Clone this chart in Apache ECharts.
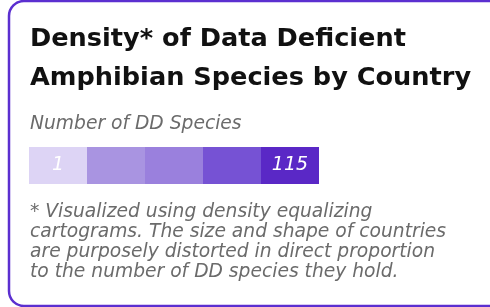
<!DOCTYPE html>
<html>
<head>
<meta charset="utf-8">
<script src="https://cdn.jsdelivr.net/npm/echarts@6/dist/echarts.min.js"></script>
<style>
html,body{margin:0;padding:0;background:#fff;}
#chart{width:490px;height:307px;}
</style>
</head>
<body>
<div id="chart"></div>
<script>
const titleLines = ['Density* of Data Deficient', 'Amphibian Species by Country'];
const legendTitle = 'Number of DD Species';
const legendBins = ['bin1', 'bin2', 'bin3', 'bin4', 'bin5'];
const legendValues = [1, 1, 1, 1, 1];
const legendColors = ['#ddd4f5', '#a994e1', '#9a80dd', '#7652d4', '#5a28c6'];
const legendLabels = ['1', '', '', '', '115'];
const footnoteLines = [
  '* Visualized using density equalizing',
  'cartograms. The size and shape of countries',
  'are purposely distorted in direct proportion',
  'to the number of DD species they hold.'
];

const chart = echarts.init(document.getElementById('chart'), null, {renderer: 'canvas'});
chart.setOption({
  animation: false,
  backgroundColor: '#ffffff',
  graphic: [{
    type: 'rect',
    shape: {x: 9, y: 1, width: 520, height: 305, r: 15},
    style: {fill: 'none', stroke: '#5b2fd0', lineWidth: 2.5},
    z: 10
  }],
  title: [{
    text: titleLines.join('\n'),
    left: 30, top: 20,
    padding: 0,
    textStyle: {fontFamily: 'DejaVu Sans', fontSize: 25.6, fontWeight: 'bold', color: '#111111', lineHeight: 39}
  }, {
    text: legendTitle,
    left: 30, top: 114,
    padding: 0,
    textStyle: {fontFamily: 'DejaVu Sans', fontSize: 18.7, fontStyle: 'italic', fontWeight: 'normal', color: '#6b6b6b', lineHeight: 20}
  }, {
    text: footnoteLines.join('\n'),
    left: 30, top: 202,
    padding: 0,
    textStyle: {fontFamily: 'DejaVu Sans', fontSize: 18.7, fontStyle: 'italic', fontWeight: 'normal', color: '#6b6b6b', lineHeight: 20}
  }],
  grid: {left: 29, top: 147, width: 290, height: 37},
  xAxis: {type: 'category', data: legendBins, show: false},
  yAxis: {type: 'value', min: 0, max: 1, show: false},
  series: [{
    type: 'bar',
    barCategoryGap: '0%',
    data: legendValues.map((v, i) => ({
      value: v,
      itemStyle: {color: legendColors[i]},
      label: {
        show: legendLabels[i] !== '',
        position: 'inside',
        formatter: legendLabels[i],
        color: '#ffffff',
        fontFamily: 'DejaVu Sans',
        fontStyle: 'italic',
        fontSize: 19
      }
    }))
  }]
});
</script>
</body>
</html>
